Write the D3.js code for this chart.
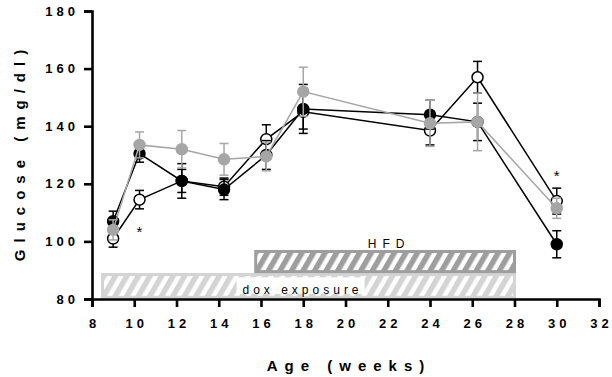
<!DOCTYPE html>
<html>
<head>
<meta charset="utf-8">
<script src="https://cdn.jsdelivr.net/npm/d3@7"></script>
<style>
  body { margin: 0; background: #fff; }
  text { font-family: "Liberation Sans", Arial, sans-serif; fill: #000; }
  .tick text { font-size: 13px; font-weight: bold; letter-spacing: 4px; }
</style>
</head>
<body>
<div id="chart"></div>
<script>
// data (mean, sem)
var weeks = [9, 10.25, 12.25, 14.25, 16.25, 18, 24, 26.25, 30];
var blackMean = [107, 130.5, 121, 118, 130, 146, 144, 141.5, 99];
var blackSem  = [3.5, 3, 6, 3.5, 5, 8.5, 5, 6.5, 4.7];
var openMean  = [101, 114.5, 121, 119, 135.5, 145, 138.5, 157, 114];
var openSem   = [3, 3.2, 4, 3, 5, 6, 5, 5.5, 4.5];
var grayMean  = [104, 133.5, 132, 128.5, 129.5, 152, 141, 141.5, 111.5];
var graySem   = [3.5, 4.5, 6.5, 5.5, 5, 8.5, 8, 10, 3.5];

var xTicks = [8, 10, 12, 14, 16, 18, 20, 22, 24, 26, 28, 30, 32];
var yTicks = [80, 100, 120, 140, 160, 180];

var periods = [
  {name: "dox exposure", start: 8.5, end: 28},
  {name: "HFD", start: 15.75, end: 28}
];
var stars = [{w: 10.25, v: 101.5}, {w: 30, v: 121}];

var margin = {top: 11, right: 13, bottom: 78, left: 92},
    width = 612 - margin.left - margin.right,
    height = 377 - margin.top - margin.bottom;

var x = d3.scaleLinear().domain([8, 32]).range([0, width]);
var y = d3.scaleLinear().domain([80, 180]).range([height, 0]);

var svg = d3.select("#chart").append("svg")
    .attr("width", 612)
    .attr("height", 377);

var defs = svg.append("defs");
function stripes(id, col) {
  var p = defs.append("pattern")
      .attr("id", id)
      .attr("patternUnits", "userSpaceOnUse")
      .attr("width", 10).attr("height", 10)
      .attr("patternTransform", "rotate(30)");
  p.append("rect").attr("width", 10).attr("height", 10).attr("fill", "#fff");
  p.append("rect").attr("width", 5.5).attr("height", 10).attr("fill", col);
}
stripes("hatchDox", "#d4d4d4");
stripes("hatchHfd", "#9e9e9e");

var g = svg.append("g")
    .attr("transform", "translate(" + margin.left + "," + margin.top + ")");

// exposure bars
var dox = periods[0], hfd = periods[1];
g.append("rect")
    .attr("x", x(dox.start)).attr("y", y(88.5))
    .attr("width", x(dox.end) - x(dox.start)).attr("height", y(80.6) - y(88.5))
    .attr("fill", "url(#hatchDox)")
    .attr("stroke", "#d4d4d4").attr("stroke-width", 3);
var doxMid = (x(dox.start) + x(dox.end)) / 2 - 8;
g.append("rect")
    .attr("x", doxMid - 64).attr("y", y(87.5))
    .attr("width", 128).attr("height", y(81.8) - y(87.5))
    .attr("fill", "#fff");
g.append("text")
    .attr("x", doxMid + 2).attr("y", y(81.9))
    .attr("text-anchor", "middle")
    .style("font-size", "12px").style("letter-spacing", "4px")
    .text(dox.name);

g.append("rect")
    .attr("x", x(hfd.start)).attr("y", y(96.5))
    .attr("width", x(hfd.end) - x(hfd.start)).attr("height", y(89.5) - y(96.5))
    .attr("fill", "url(#hatchHfd)")
    .attr("stroke", "#9e9e9e").attr("stroke-width", 3);
g.append("text")
    .attr("x", (x(hfd.start) + x(hfd.end)) / 2 + 4).attr("y", y(97.6))
    .attr("text-anchor", "middle")
    .style("font-size", "12px").style("letter-spacing", "6px")
    .text(hfd.name);

// axes
var xAxis = g.append("g")
    .attr("transform", "translate(0," + height + ")")
    .call(d3.axisBottom(x).tickValues(xTicks).tickSize(8).tickPadding(12));
var yAxis = g.append("g")
    .call(d3.axisLeft(y).tickValues(yTicks).tickSize(8).tickPadding(5));
[xAxis, yAxis].forEach(function(a) {
  a.select(".domain").attr("stroke-width", 2.6);
  a.selectAll(".tick line").attr("stroke-width", 2.6);
});
xAxis.selectAll(".tick text").attr("dx", "2px");

svg.append("text")
    .attr("x", 349)
    .attr("y", 371)
    .attr("text-anchor", "middle")
    .style("font-size", "15px").style("font-weight", "bold").style("letter-spacing", "7px")
    .text("Age (weeks)");

svg.append("text")
    .attr("transform", "translate(25,152) rotate(-90)")
    .attr("text-anchor", "middle")
    .style("font-size", "15px").style("font-weight", "bold").style("letter-spacing", "7px")
    .text("Glucose (mg/dl)");

// series
var series = [
  {mean: openMean, sem: openSem, line: "#000", fill: "#fff", stroke: "#000"},
  {mean: blackMean, sem: blackSem, line: "#000", fill: "#000", stroke: "#000"},
  {mean: grayMean, sem: graySem, line: "#a6a6a6", fill: "#a6a6a6", stroke: "#a6a6a6"}
];

var line = d3.line()
    .x(function(d) { return x(d.w); })
    .y(function(d) { return y(d.v); });

series.forEach(function(s) {
  var pts = weeks.map(function(w, i) { return {w: w, v: s.mean[i], e: s.sem[i]}; });

  var eb = g.append("g").attr("stroke", s.line).attr("stroke-width", 1.5);
  pts.forEach(function(d) {
    eb.append("line")
        .attr("x1", x(d.w)).attr("x2", x(d.w))
        .attr("y1", y(d.v - d.e)).attr("y2", y(d.v + d.e));
    [d.v - d.e, d.v + d.e].forEach(function(v) {
      eb.append("line")
          .attr("x1", x(d.w) - 4.5).attr("x2", x(d.w) + 4.5)
          .attr("y1", y(v)).attr("y2", y(v));
    });
  });

  g.append("path")
      .datum(pts)
      .attr("fill", "none")
      .attr("stroke", s.line)
      .attr("stroke-width", 1.5)
      .attr("d", line);

  g.selectAll(null)
      .data(pts)
      .enter().append("circle")
      .attr("cx", function(d) { return x(d.w); })
      .attr("cy", function(d) { return y(d.v); })
      .attr("r", 5.5)
      .attr("fill", s.fill)
      .attr("stroke", s.stroke)
      .attr("stroke-width", 1.5);
});

g.selectAll(".star")
    .data(stars)
    .enter().append("text")
    .attr("class", "star")
    .attr("x", function(d) { return x(d.w); })
    .attr("y", function(d) { return y(d.v); })
    .attr("text-anchor", "middle")
    .attr("fill", "#000")
    .style("font-size", "15px")
    .text("*");
</script>
</body>
</html>
